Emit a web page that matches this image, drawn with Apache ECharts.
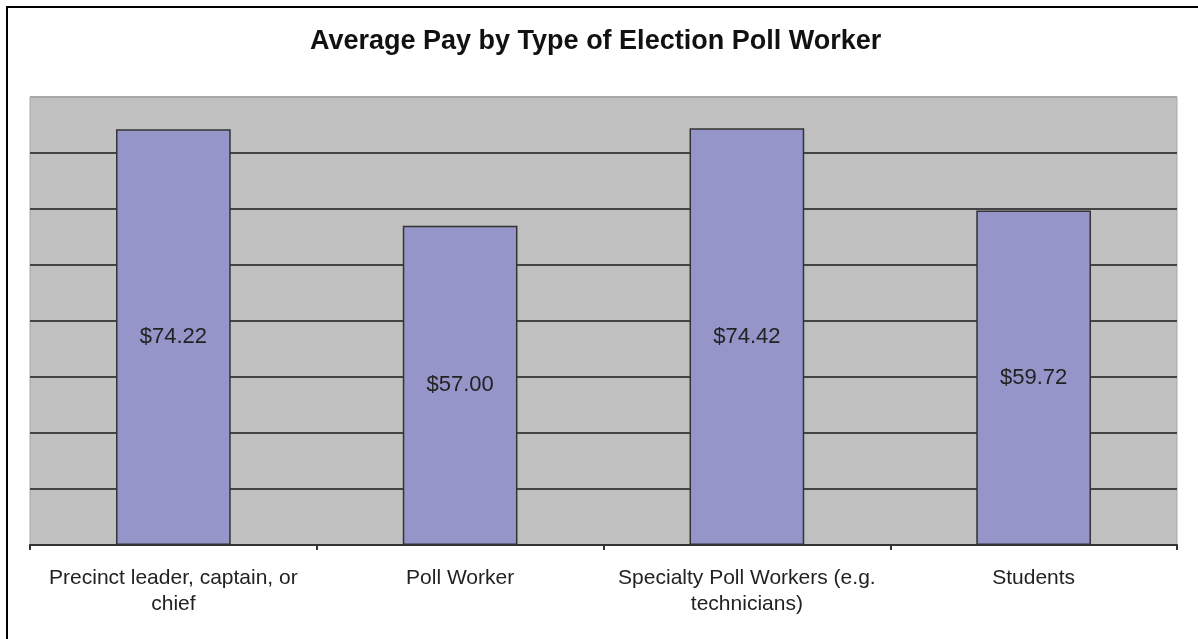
<!DOCTYPE html>
<html>
<head>
<meta charset="utf-8">
<script src="https://cdn.jsdelivr.net/npm/echarts@6/dist/echarts.min.js"></script>
<style>
html,body{margin:0;padding:0;background:#fff;}
#chart{width:1198px;height:639px;}
</style>
</head>
<body>
<div id="chart"></div>
<script>
const titleText = 'Average Pay by Type of Election Poll Worker';
const categories = [
  'Precinct leader, captain, or\nchief',
  'Poll Worker',
  'Specialty Poll Workers (e.g.\ntechnicians)',
  'Students'
];
const payValues = [74.22, 57.00, 74.42, 59.72];
const yMin = 0, yMax = 80, yStep = 10;

const chart = echarts.init(document.getElementById('chart'), null, {renderer: 'canvas'});
const gridLineColors = ['#444','#444','#444','#444','#444','#444','#444','#444','#a8a8a8'];
chart.setOption({
  animation: false,
  backgroundColor: '#ffffff',
  title: {
    text: titleText,
    left: 305,
    top: 23,
    textStyle: {fontFamily: 'Liberation Sans, Arial, sans-serif', fontSize: 27, fontWeight: 'bold', color: '#111'}
  },
  graphic: [
    {type: 'line', shape: {x1: 7, y1: 6, x2: 7, y2: 639}, style: {stroke: '#000', lineWidth: 2}},
    {type: 'line', shape: {x1: 6, y1: 7, x2: 1198, y2: 7}, style: {stroke: '#000', lineWidth: 2}}
  ],
  grid: {
    left: 30, right: 21, top: 97, bottom: 94,
    show: true, backgroundColor: '#c0c0c0', borderColor: '#a8a8a8', borderWidth: 1
  },
  xAxis: {
    type: 'category',
    data: categories,
    axisLine: {lineStyle: {color: '#333', width: 2}},
    axisTick: {show: true, length: 5, lineStyle: {color: '#333', width: 2}},
    axisLabel: {fontFamily: 'Liberation Sans, Arial, sans-serif', fontSize: 21, color: '#222', margin: 20, lineHeight: 26, interval: 0}
  },
  yAxis: {
    type: 'value',
    min: yMin, max: yMax, interval: yStep,
    axisLine: {show: false},
    axisTick: {show: false},
    axisLabel: {show: false},
    splitLine: {show: true, lineStyle: {color: gridLineColors, width: 2}}
  },
  series: [{
    type: 'bar',
    data: payValues,
    barCategoryGap: '60%',
    itemStyle: {color: '#9595c9', borderColor: '#333', borderWidth: 1.5},
    label: {
      show: true,
      position: 'inside',
      formatter: p => '$' + p.value.toFixed(2),
      fontFamily: 'Liberation Sans, Arial, sans-serif',
      fontSize: 22,
      color: '#222'
    }
  }]
});
</script>
</body>
</html>
